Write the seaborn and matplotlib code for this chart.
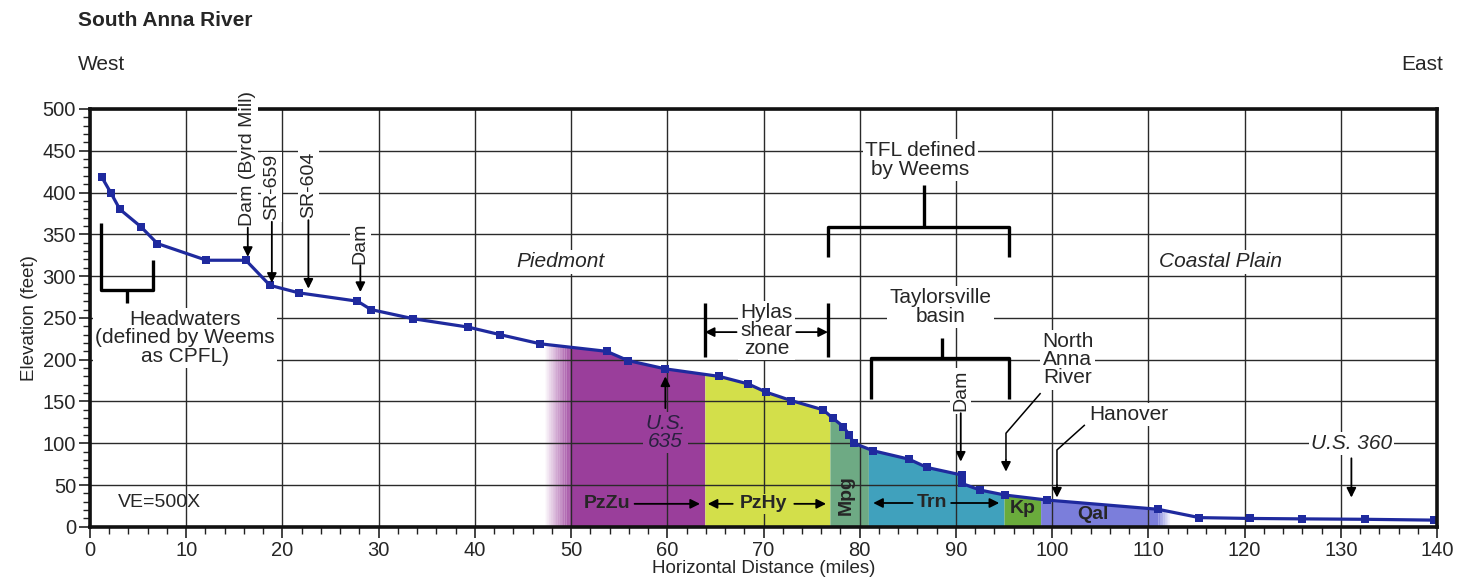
import numpy as np
import matplotlib
matplotlib.use("Agg")
import matplotlib.pyplot as plt
import seaborn as sns

# ---- profile ----
distance = [1.2, 2.2, 3.1, 5.3, 7.0, 12.1, 16.2, 18.7, 21.7, 27.8, 29.2, 33.6, 39.3,
            42.6, 46.8, 53.7, 55.9, 59.8, 65.4, 68.4, 70.3, 72.9, 76.2, 77.2, 78.3,
            78.9, 79.4, 81.4, 85.1, 87.0, 90.6, 90.6, 92.5, 95.1, 99.5, 111.0, 115.3,
            120.6, 126.0, 132.5, 139.7]
elevation = [419, 399, 380, 359, 339, 319, 319, 289, 280, 270, 260, 249, 239,
             230, 219, 210, 199, 189, 180, 171, 161, 151, 140, 130, 120,
             110, 100, 91, 81, 71, 62, 52, 44, 38, 32, 21, 11,
             10, 9.5, 9, 8]

# geologic units under the profile
units = ['PzZu', 'PzHy', 'Mpg', 'Trn', 'Kp', 'Qal']
unit_start = [50.0, 63.9, 76.9, 80.9, 95.0, 98.8]
unit_end = [63.9, 76.9, 80.9, 95.0, 98.8, 111.0]
unit_color = ['#9a3e9b', '#d3df4a', '#6eaa84', '#40a1bd', '#6aab3c', '#7b7edb']

sns.set_style("white")
plt.rcParams['font.family'] = ['Liberation Sans', 'DejaVu Sans']

fig = plt.figure(figsize=(14.68, 5.86), dpi=100)
ax = fig.add_axes([0.0613, 0.101, 0.9176, 0.713])

# unit fills
for name, x0, x1, c in zip(units, unit_start, unit_end, unit_color):
    xs = np.linspace(x0, x1, 60)
    ax.fill_between(xs, 0, np.interp(xs, distance, elevation), color=c, lw=0, zorder=1)

# faded edges (PzZu west edge, Qal east edge)
edges = np.linspace(47.3, 50.0, 16)
for i in range(len(edges) - 1):
    xs = np.linspace(edges[i], edges[i + 1], 4)
    ax.fill_between(xs, 0, np.interp(xs, distance, elevation), color=unit_color[0],
                    alpha=(i + 1) / len(edges), lw=0, zorder=1)
edges = np.linspace(111.0, 112.2, 8)
for i in range(len(edges) - 1):
    xs = np.linspace(edges[i], edges[i + 1], 4)
    ax.fill_between(xs, 0, np.interp(xs, distance, elevation), color=unit_color[5],
                    alpha=1 - (i + 1) / len(edges), lw=0, zorder=1)

sns.lineplot(x=distance, y=elevation, ax=ax, color='#1f2a9e', lw=2.3, marker='s',
             markersize=6, markeredgewidth=0, estimator=None, sort=False, zorder=4)

ax.set_xlim(0, 140)
ax.set_ylim(0, 500)
ax.set_xticks(np.arange(0, 141, 10))
ax.set_xticks(np.arange(0, 141, 2), minor=True)
ax.set_yticks(np.arange(0, 501, 50))
ax.set_yticks(np.arange(0, 501, 10), minor=True)
ax.tick_params(which='major', length=8, width=1.2, labelsize=14.5, direction='out',
               color='#222', pad=2)
ax.tick_params(which='minor', length=5, width=1.0, direction='out', color='#222')
ax.tick_params(axis='x', bottom=True, which='both')
ax.tick_params(axis='y', left=True, which='both')
ax.grid(True, which='major', color='#2a2a2a', lw=1.0)
ax.set_axisbelow(False)
for s in ax.spines.values():
    s.set_color('#111')
    s.set_linewidth(2.6)
    s.set_zorder(5)

ax.set_xlabel('Horizontal Distance (miles)', fontsize=13.5, labelpad=0)
ax.set_ylabel('Elevation (feet)', fontsize=13.5, labelpad=3)

fig.text(78 / 1468, 1 - 20 / 586, 'South Anna River', fontsize=15, fontweight='bold', va='center')
fig.text(78 / 1468, 1 - 65 / 586, 'West', fontsize=15, va='center')
fig.text(1443 / 1468, 1 - 65 / 586, 'East', fontsize=15, va='center', ha='right')

wbox = dict(facecolor='white', edgecolor='none', pad=1.5)
tsize = 15
arrow = dict(arrowstyle='-|>', color='k', lw=1.3, mutation_scale=14, shrinkA=0, shrinkB=0)

def arr(x0, y0, x1, y1):
    ax.annotate('', xy=(x1, y1), xytext=(x0, y0), arrowprops=arrow, zorder=6)

def seg(xs, ys, lw=2.4):
    ax.plot(xs, ys, color='k', lw=lw, solid_capstyle='butt', zorder=6)

# headwaters bracket
seg([1.1, 1.1, 6.5, 6.5], [364, 283.5, 283.5, 319])
seg([3.8, 3.8], [283.5, 268])
ax.text(9.9, 226, 'Headwaters\n(defined by Weems\nas CPFL)', fontsize=tsize, ha='center',
        va='center', linespacing=0.95, bbox=wbox, zorder=6)

# vertical point labels with arrows
for x, ybot, ytip, lab in [(16.4, 358, 323, 'Dam (Byrd Mill)'), (18.9, 365, 292, 'SR-659'),
                           (22.7, 367, 285, 'SR-604'), (28.1, 313, 281, 'Dam'),
                           (90.5, 136, 78, 'Dam')]:
    ax.text(x, ybot + 2, lab, rotation=90, fontsize=14, ha='center', va='bottom',
            bbox=wbox, zorder=6)
    arr(x, ybot, x, ytip)

ax.text(48.9, 317, 'Piedmont', fontsize=tsize, style='italic', ha='center', va='center',
        bbox=wbox, zorder=6)
ax.text(117.5, 317, 'Coastal Plain', fontsize=tsize, style='italic', ha='center',
        va='center', bbox=wbox, zorder=6)

# Hylas shear zone
seg([63.9, 63.9], [203, 268])
seg([76.7, 76.7], [203, 268])
ax.text(70.3, 235, 'Hylas\nshear\nzone', fontsize=tsize, ha='center', va='center',
        linespacing=0.95, bbox=wbox, zorder=6)
arr(67.2, 233, 63.9, 233)
arr(73.4, 233, 76.7, 233)

# TFL bracket
seg([76.7, 76.7, 95.5, 95.5], [323, 359, 359, 323])
seg([86.7, 86.7], [359, 409])
ax.text(86.3, 439, 'TFL defined\nby Weems', fontsize=tsize, ha='center', va='center',
        linespacing=0.95, bbox=wbox, zorder=6)

# Taylorsville basin bracket
seg([81.2, 81.2, 95.5, 95.5], [153, 202, 202, 153])
seg([88.6, 88.6], [202, 226])
ax.text(88.4, 263, 'Taylorsville\nbasin', fontsize=tsize, ha='center', va='center',
        linespacing=0.95, bbox=wbox, zorder=6)

# North Anna River
ax.text(101.6, 200, 'North\nAnna\nRiver', fontsize=tsize, ha='center', va='center',
        linespacing=0.95, bbox=wbox, zorder=6)
seg([98.8, 95.2, 95.2], [160, 112, 80], lw=1.1)
arr(95.2, 80, 95.2, 66)

# Hanover
ax.text(108.0, 134, 'Hanover', fontsize=tsize, ha='center', va='center', bbox=wbox, zorder=6)
seg([103.4, 100.5, 100.5], [122, 92, 50], lw=1.1)
arr(100.5, 50, 100.5, 35)

# U.S. 360 and U.S. 635
ax.text(131.1, 100, 'U.S. 360', fontsize=tsize, style='italic', ha='center', va='center',
        bbox=wbox, zorder=6)
arr(131.1, 82, 131.1, 35)
ax.text(59.8, 113, 'U.S.\n635', fontsize=tsize, style='italic', ha='center', va='center',
        linespacing=0.95, color='#2a2040',
        bbox=dict(facecolor=unit_color[0], edgecolor='none', pad=1.5), zorder=6)
arr(59.8, 142, 59.8, 180)

ax.text(2.9, 29, 'VE=500X', fontsize=14, ha='left', va='center', zorder=6)

# unit labels
ubox = lambda c: dict(facecolor=c, edgecolor='none', pad=1.0)
ax.text(53.7, 27.5, units[0], fontsize=14, fontweight='bold', ha='center', va='center', zorder=6)
arr(56.6, 27.5, 63.4, 27.5)
ax.text(70.0, 27.5, units[1], fontsize=14, fontweight='bold', ha='center', va='center',
        bbox=ubox(unit_color[1]), zorder=6)
arr(66.8, 27.5, 64.2, 27.5)
arr(73.2, 27.5, 76.5, 27.5)
ax.text(78.6, 38, units[2], fontsize=14, fontweight='bold', rotation=90, ha='center',
        va='center', zorder=6)
ax.text(87.5, 28.5, units[3], fontsize=14, fontweight='bold', ha='center', va='center', zorder=6)
arr(85.5, 28.5, 81.4, 28.5)
arr(89.5, 28.5, 94.5, 28.5)
ax.text(96.9, 21.5, units[4], fontsize=14, fontweight='bold', ha='center', va='center', zorder=6)
ax.text(104.2, 14.5, units[5], fontsize=14, fontweight='bold', ha='center', va='center', zorder=6)

fig.savefig('out.png', dpi=100)
